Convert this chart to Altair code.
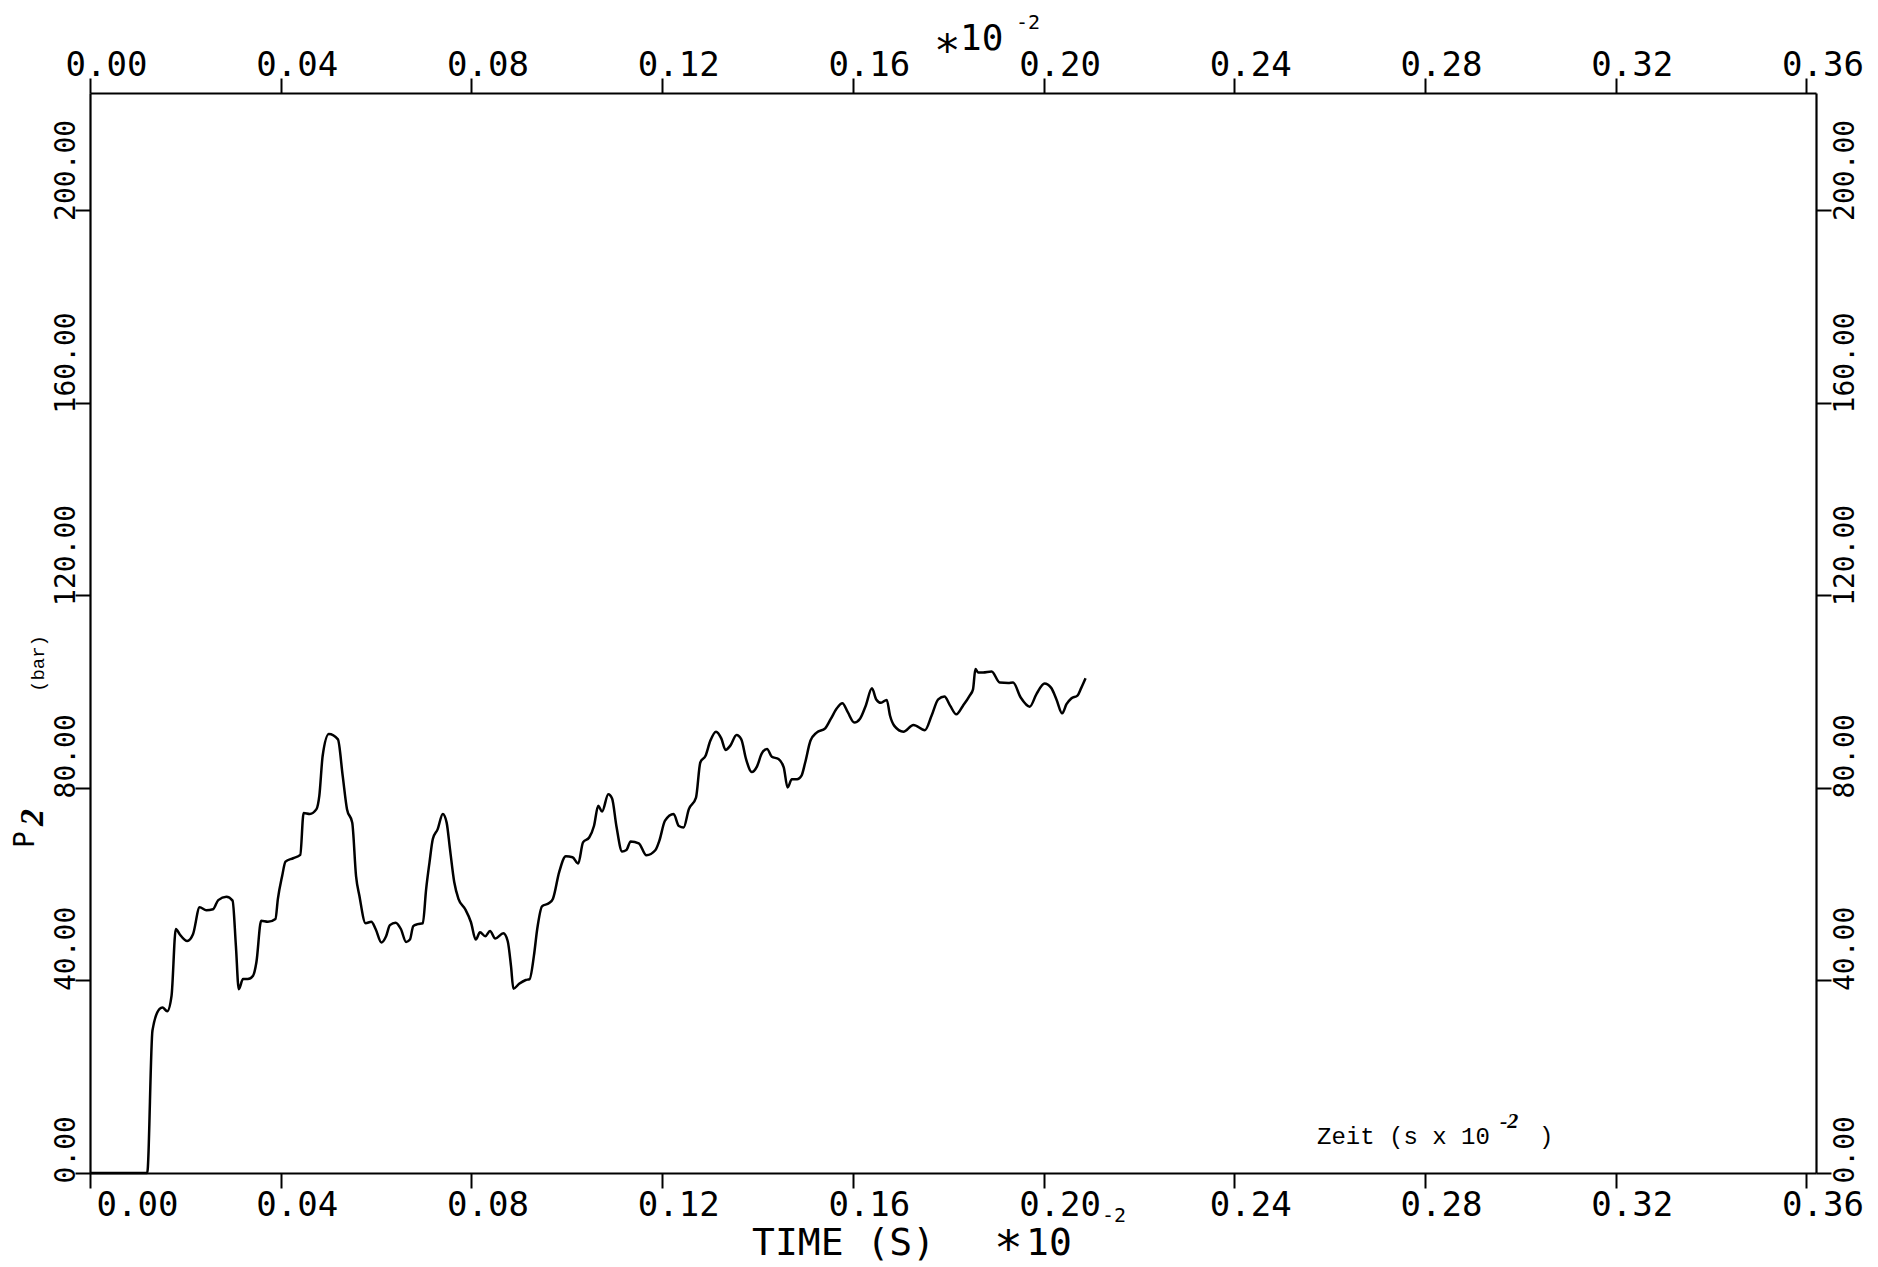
import altair as alt
import pandas as pd

# Pressure trace P2 (bar) against time (s x 10^-2)
time_e2 = [
    0.0000, 0.0120, 0.0131, 0.0146, 0.0152, 0.0162, 0.0171, 0.0180, 0.0188, 0.0204,
    0.0216, 0.0230, 0.0244, 0.0258, 0.0269, 0.0286, 0.0299, 0.0306, 0.0312, 0.0321,
    0.0331, 0.0342, 0.0349, 0.0359, 0.0373, 0.0389, 0.0394, 0.0403, 0.0410, 0.0426,
    0.0441, 0.0448, 0.0461, 0.0475, 0.0481, 0.0488, 0.0501, 0.0520, 0.0530, 0.0539,
    0.0550, 0.0558, 0.0565, 0.0578, 0.0590, 0.0599, 0.0611, 0.0621, 0.0629, 0.0641,
    0.0652, 0.0663, 0.0671, 0.0678, 0.0687, 0.0698, 0.0705, 0.0712, 0.0719, 0.0729,
    0.0740, 0.0748, 0.0755, 0.0764, 0.0773, 0.0787, 0.0799, 0.0809, 0.0818, 0.0829,
    0.0839, 0.0850, 0.0867, 0.0876, 0.0883, 0.0888, 0.0900, 0.0914, 0.0922, 0.0931,
    0.0938, 0.0948, 0.0963, 0.0971, 0.0984, 0.0998, 0.1012, 0.1024, 0.1034, 0.1047,
    0.1057, 0.1066, 0.1074, 0.1087, 0.1095, 0.1104, 0.1116, 0.1125, 0.1134, 0.1151,
    0.1167, 0.1186, 0.1194, 0.1206, 0.1224, 0.1235, 0.1245, 0.1256, 0.1271, 0.1280,
    0.1291, 0.1301, 0.1313, 0.1324, 0.1333, 0.1343, 0.1356, 0.1366, 0.1376, 0.1388,
    0.1399, 0.1409, 0.1420, 0.1430, 0.1444, 0.1455, 0.1463, 0.1472, 0.1483, 0.1492,
    0.1500, 0.1511, 0.1524, 0.1542, 0.1554, 0.1566, 0.1578, 0.1589, 0.1603, 0.1615,
    0.1627, 0.1640, 0.1649, 0.1659, 0.1671, 0.1678, 0.1687, 0.1706, 0.1727, 0.1751,
    0.1765, 0.1779, 0.1792, 0.1804, 0.1817, 0.1831, 0.1845, 0.1852, 0.1857, 0.1863,
    0.1873, 0.1891, 0.1908, 0.1926, 0.1936, 0.1952, 0.1971, 0.1985, 0.2002, 0.2016,
    0.2027, 0.2039, 0.2048, 0.2058, 0.2071, 0.2079, 0.2088,
]
pressure_bar = [
    0.0, 0.0, 29.6, 34.1, 34.4, 33.6, 36.8, 50.7, 49.6, 48.2,
    49.6, 55.2, 54.6, 54.8, 56.7, 57.4, 56.6, 47.2, 38.2, 40.3,
    40.3, 41.0, 43.8, 52.4, 52.2, 52.8, 56.9, 61.7, 64.7, 65.4,
    66.1, 74.8, 74.6, 75.6, 78.4, 86.7, 91.2, 90.1, 82.5, 75.6,
    72.8, 61.7, 57.6, 51.9, 52.2, 50.7, 47.9, 49.2, 51.5, 52.0,
    50.7, 48.0, 48.5, 51.3, 51.7, 51.9, 59.0, 64.5, 69.4, 71.4,
    74.6, 72.8, 67.3, 60.4, 56.9, 54.8, 52.1, 48.5, 50.0, 49.2,
    50.3, 48.7, 49.8, 48.2, 43.0, 38.3, 39.3, 40.1, 40.3, 45.1,
    50.7, 55.4, 56.1, 57.0, 62.5, 65.8, 65.6, 64.3, 68.7, 69.7,
    72.1, 76.3, 75.1, 78.7, 77.8, 72.1, 66.8, 67.1, 68.9, 68.5,
    66.0, 67.1, 69.0, 73.2, 74.6, 72.1, 71.8, 75.6, 78.0, 85.3,
    86.7, 89.8, 91.7, 90.3, 87.9, 88.8, 91.0, 90.1, 86.0, 83.3,
    84.5, 87.2, 88.1, 86.5, 86.0, 84.3, 80.1, 81.8, 81.8, 82.5,
    85.3, 89.8, 91.5, 92.4, 94.4, 96.5, 97.6, 95.8, 93.6, 94.4,
    97.1, 100.7, 98.4, 97.7, 98.3, 95.0, 92.9, 91.7, 93.1, 92.0,
    95.0, 98.4, 99.0, 97.1, 95.3, 97.1, 99.2, 100.5, 104.7, 104.0,
    104.0, 104.2, 101.9, 101.8, 101.9, 98.8, 96.9, 99.5, 101.7, 100.8,
    98.4, 95.5, 97.4, 98.6, 99.2, 100.8, 102.8,
]

x_ticks = [0.00, 0.04, 0.08, 0.12, 0.16, 0.20, 0.24, 0.28, 0.32, 0.36]
y_ticks = [0, 40, 80, 120, 160, 200]

X_DOMAIN = [0, 0.362]
Y_DOMAIN = [0, 224.4]
W, H = 1726, 1080
PAD = {"left": 90, "top": 93, "right": 1878 - 90 - W, "bottom": 1267 - 93 - H}

MONO = "DejaVu Sans Mono"
TYPE = "Liberation Mono"

df = pd.DataFrame({"t": time_e2, "p": pressure_bar})

x_scale = alt.Scale(domain=X_DOMAIN, nice=False, zero=False)
y_scale = alt.Scale(domain=Y_DOMAIN, nice=False)

common = dict(
    title=None, grid=False, format=".2f",
    domainColor="black", domainWidth=2.2,
    tickColor="black", tickWidth=2, tickSize=15,
    labelColor="black", labelFont=MONO,
    labelOverlap=False, labelFlush=False, labelBound=False,
)


def x_axis(orient):
    if orient == "bottom":
        offset = {"condition": {"test": "datum.value === 0", "value": 47}, "value": 16}
        return alt.Axis(orient=orient, values=x_ticks, labelFontSize=34, labelPadding=0,
                        labelOffset=offset, labelAlign="center", labelBaseline="top", **common)
    return alt.Axis(orient=orient, values=x_ticks, labelFontSize=34, labelPadding=3,
                    labelOffset=16, labelAlign="center", labelBaseline="alphabetic", **common)


def y_axis(orient):
    return alt.Axis(orient=orient, values=y_ticks, labelFontSize=28, labelAngle=270,
                    labelAlign="left",
                    labelBaseline="alphabetic" if orient == "left" else "top",
                    labelPadding=1 if orient == "left" else 0,
                    labelOffset=10, **common)


trace = alt.Chart(df).mark_line(
    color="black", strokeWidth=2.5, interpolate="monotone"
).encode(
    x=alt.X("t:Q", scale=x_scale, axis=x_axis("bottom")),
    y=alt.Y("p:Q", scale=y_scale, axis=y_axis("left")),
)

# invisible copy that carries the top and right axes on the same scales
mirror = alt.Chart(df).mark_point(opacity=0).encode(
    x=alt.X("t:Q", scale=x_scale, axis=x_axis("top")),
    y=alt.Y("p:Q", scale=y_scale, axis=y_axis("right")),
)


def label(text, x, y, size, font=MONO, angle=0, weight="normal", style="normal"):
    return alt.Chart(alt.Data(values=[{}])).mark_text(
        text=text, font=font, fontSize=size, angle=angle, fontWeight=weight,
        fontStyle=style, align="left", baseline="alphabetic", color="black",
    ).encode(x=alt.value(x), y=alt.value(y))


texts = [
    # exponent above the top axis
    label("∗", 844, -36, 44),
    label("10", 870, -43, 36),
    label("-2", 926, -64, 20),
    # bottom axis title
    label("TIME (S)", 662, 1162, 38),
    label("∗", 904, 1162, 48),
    label("10", 936, 1162, 38),
    label("-2", 1012, 1129, 20),
    # in-plot note
    label("Zeit (s x 10", 1227, 1051, 24, font=TYPE),
    label("-2", 1410, 1035, 22, font="Liberation Serif", weight="bold", style="italic"),
    label(")", 1449, 1051, 24, font=TYPE),
    # y title
    label("P", -56, 755, 28, angle=270),
    label("2", -47, 733, 34, font="Liberation Serif", angle=270, weight="bold", style="italic"),
    label("(bar)", -46, 599, 19, font=TYPE, angle=270),
]

chart = (
    alt.layer(trace, mirror, *texts)
    .resolve_axis(x="independent", y="independent")
    .properties(
        width=W, height=H, padding=PAD, background="white",
        autosize=alt.AutoSizeParams(type="none"),
    )
    .configure_view(stroke=None)
)

chart.save("out.html", embed_options={"renderer": "svg", "actions": False})
